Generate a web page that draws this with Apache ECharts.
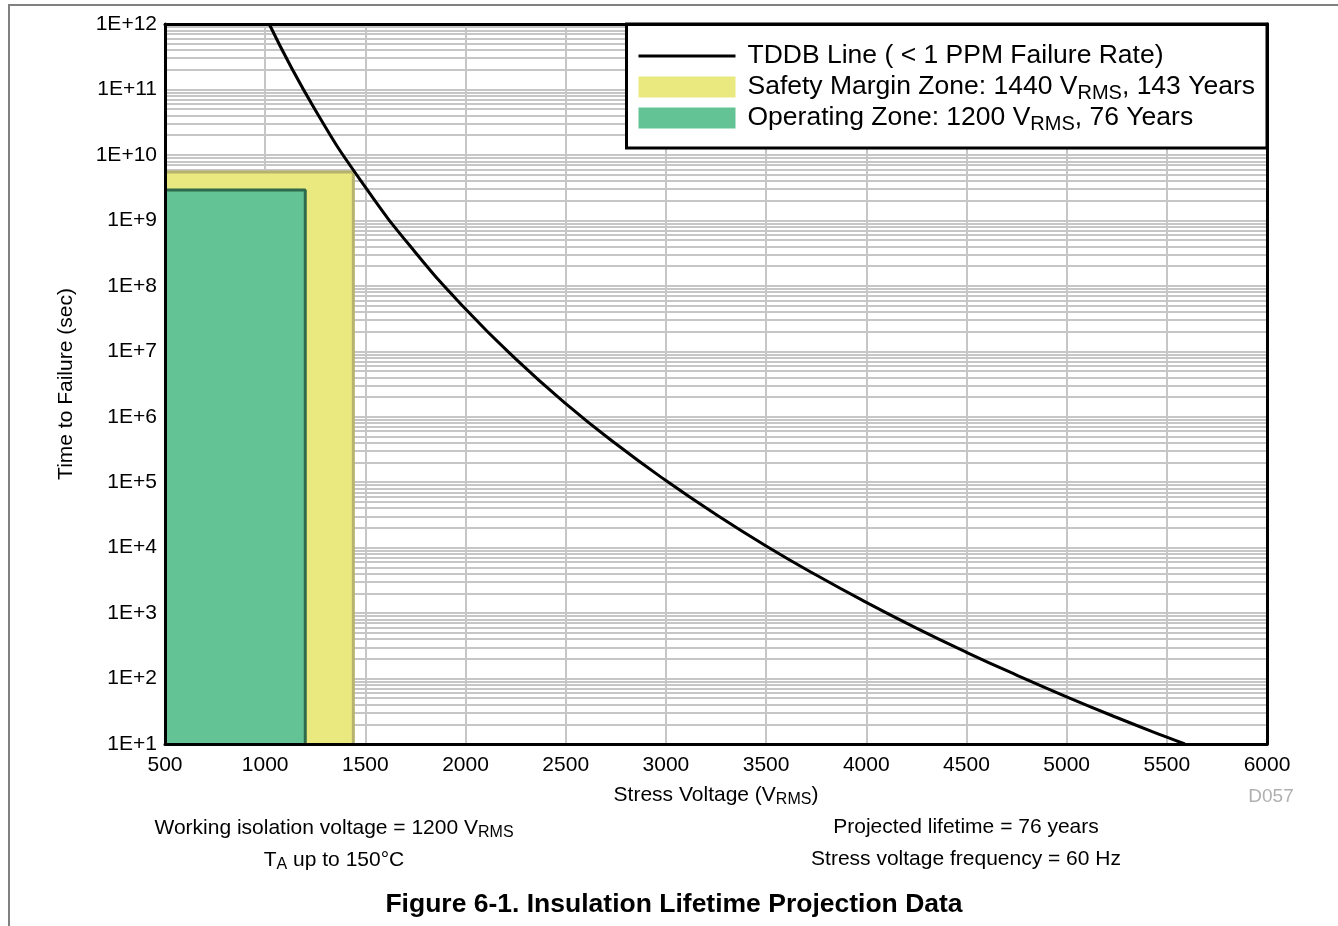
<!DOCTYPE html>
<html>
<head>
<meta charset="utf-8" />
<script src="https://cdn.jsdelivr.net/npm/echarts@6/dist/echarts.min.js"></script>
<style>
  html, body { margin: 0; padding: 0; background: #fff; }
  #chart { width: 1338px; height: 926px; }
</style>
</head>
<body>
<div id="chart"></div>
<script>
// TDDB line (stress voltage in V_RMS, time to failure in s)
var voltage  = [1020, 1250, 1500, 1750, 2000, 2250, 2500, 2750, 3000,
                3250, 3500, 3750, 4000, 4250, 4500, 4750, 5000, 5250, 5500, 5590];
var lifetime = [1e12, 4.84e10, 3.21e9, 3.23e8, 4.42e7, 7.66e6, 1.59e6, 3.86e5, 1.06e5,
                3.21e4, 1.06e4, 3.81e3, 1.46e3, 590, 252, 113, 52.5, 25.4, 12.7, 10];
// zones: [right edge voltage, top time]
var safetyZone    = [1440, 5.5e9];
var operatingZone = [1200, 2.9e9];
var xMin = 500, xMax = 6000, xStep = 500;
var yMin = 10, yMax = 1e12;

var FONT = "'Liberation Sans', Arial, sans-serif";

var curve = voltage.map(function (v, i) { return [v, lifetime[i]]; });
function zoneData(z) { return [[xMin, z[1]], [z[0], z[1]], [z[0], yMin]]; }

// minor horizontal grid lines 2..9 of every decade
var minorLines = [];
for (var d = 1; d < 12; d++) {
  for (var m = 2; m <= 9; m++) minorLines.push({ yAxis: m * Math.pow(10, d) });
}

var legendText = {
  tddb: 'TDDB Line ( < 1 PPM Failure Rate)',
  safety: 'Safety Margin Zone: 1440 V{s|RMS}, 143 Years',
  operating: 'Operating Zone: 1200 V{s|RMS}, 76 Years'
};

var chart = echarts.init(document.getElementById('chart'));

var gridLine = { show: true, lineStyle: { color: '#c6c6c6', width: 2 } };
var frame = { show: true, onZero: false, lineStyle: { color: '#000', width: 3 } };
function sub(size, drop) {
  return { fontFamily: FONT, fontSize: size, lineHeight: 10, padding: [drop, 0, 0, 0], color: '#000', fill: '#000' };
}

chart.setOption({
  animation: false,
  textStyle: { fontFamily: FONT },
  grid: { left: 165, right: 71, top: 24, bottom: 182 },
  legend: {
    right: 71, top: 24, z: 8,
    orient: 'vertical',
    backgroundColor: '#fff',
    borderColor: '#000', borderWidth: 3,
    padding: [16, 12, 14, 12],
    itemWidth: 97, itemHeight: 21, itemGap: -1,
    data: [
      { name: 'tddb', icon: 'path://M0,0 L97,0 L97,3 L0,3 Z', itemStyle: { color: '#000' } },
      { name: 'safety', icon: 'rect', itemStyle: { color: '#e9e97f', borderWidth: 0 } },
      { name: 'operating', icon: 'rect', itemStyle: { color: '#63c394', borderWidth: 0 } }
    ],
    formatter: function (n) { return legendText[n]; },
    textStyle: {
      fontFamily: FONT, fontSize: 26.5, lineHeight: 32, color: '#000', padding: [0, 0, 0, 7],
      rich: { s: sub(20, 12) }
    }
  },
  xAxis: [
    { type: 'value', min: xMin, max: xMax, interval: xStep, position: 'bottom', z: 0,
      axisLine: { show: false }, axisTick: { show: false }, axisLabel: { show: false },
      splitLine: gridLine },
    { type: 'value', min: xMin, max: xMax, interval: xStep, position: 'bottom', z: 10,
      axisLine: frame, axisTick: { show: false }, splitLine: { show: false },
      axisLabel: { fontFamily: FONT, fontSize: 21, color: '#000', margin: 11,
        formatter: function (v) { return String(v); } },
      name: 'Stress Voltage (V{s|RMS})', nameLocation: 'middle', nameGap: 40,
      nameTextStyle: { fontFamily: FONT, fontSize: 21, lineHeight: 22, color: '#000', rich: { s: sub(16, 10) } } },
    { type: 'value', min: xMin, max: xMax, interval: xStep, position: 'top', z: 10,
      axisLine: frame, axisTick: { show: false }, axisLabel: { show: false }, splitLine: { show: false } }
  ],
  yAxis: [
    { type: 'log', logBase: 10, min: yMin, max: yMax, interval: 1, splitNumber: 11, position: 'left', z: 0,
      axisLine: { show: false }, axisTick: { show: false }, axisLabel: { show: false },
      splitLine: gridLine },
    { type: 'log', logBase: 10, min: yMin, max: yMax, interval: 1, splitNumber: 11, position: 'left', z: 10,
      axisLine: frame, axisTick: { show: false }, splitLine: { show: false },
      axisLabel: { fontFamily: FONT, fontSize: 21, color: '#000', margin: 8,
        formatter: function (v) { return '1E+' + Math.round(Math.log10(v)); } },
      name: 'Time to Failure (sec)', nameLocation: 'middle', nameGap: 88, nameRotate: 90,
      nameTextStyle: { fontFamily: FONT, fontSize: 21, color: '#000' } },
    { type: 'log', logBase: 10, min: yMin, max: yMax, interval: 1, splitNumber: 11, position: 'right', z: 10,
      axisLine: frame, axisTick: { show: false }, axisLabel: { show: false }, splitLine: { show: false } }
  ],
  series: [
    { name: 'minor', type: 'line', data: [], z: 1, silent: true,
      markLine: { silent: true, z: 1, symbol: ['none', 'none'], label: { show: false },
        lineStyle: { color: '#c6c6c6', width: 2, type: 'solid' }, data: minorLines } },
    { name: 'safety', type: 'line', z: 2, data: zoneData(safetyZone), symbol: 'none',
      color: '#e9e97f',
      lineStyle: { color: '#b7b36c', width: 3 },
      areaStyle: { color: '#e9e97f', opacity: 1, origin: 'start' } },
    { name: 'operating', type: 'line', z: 3, data: zoneData(operatingZone), symbol: 'none',
      color: '#63c394',
      lineStyle: { color: '#2e6b4a', width: 3 },
      areaStyle: { color: '#63c394', opacity: 1, origin: 'start' } },
    { name: 'tddb', type: 'line', z: 4, data: curve, symbol: 'none', smooth: 0.5,
      color: '#000', lineStyle: { color: '#000', width: 3 } }
  ],
  graphic: [
    { type: 'polyline', silent: true, shape: { points: [[9, 926], [9, 5], [1338, 5]] },
      style: { stroke: '#808080', lineWidth: 2, fill: null } },
    { type: 'text', x: 1271, y: 787, style: { text: 'D057', font: '19px ' + FONT, fill: '#b0b0b0', align: 'center' } },
    { type: 'text', x: 334, y: 817, style: { text: 'Working isolation voltage = 1200 V{s|RMS}',
        font: '21px ' + FONT, fill: '#000', align: 'center', lineHeight: 22, rich: { s: sub(16, 10) } } },
    { type: 'text', x: 334, y: 849, style: { text: 'T{s|A} up to 150°C',
        font: '21px ' + FONT, fill: '#000', align: 'center', lineHeight: 22, rich: { s: sub(16, 10) } } },
    { type: 'text', x: 966, y: 817, style: { text: 'Projected lifetime = 76 years',
        font: '21px ' + FONT, fill: '#000', align: 'center' } },
    { type: 'text', x: 966, y: 849, style: { text: 'Stress voltage frequency = 60 Hz',
        font: '21px ' + FONT, fill: '#000', align: 'center' } },
    { type: 'text', x: 674, y: 891, style: { text: 'Figure 6-1. Insulation Lifetime Projection Data',
        font: 'bold 26.5px ' + FONT, fill: '#000', align: 'center' } }
  ]
});
</script>
</body>
</html>
